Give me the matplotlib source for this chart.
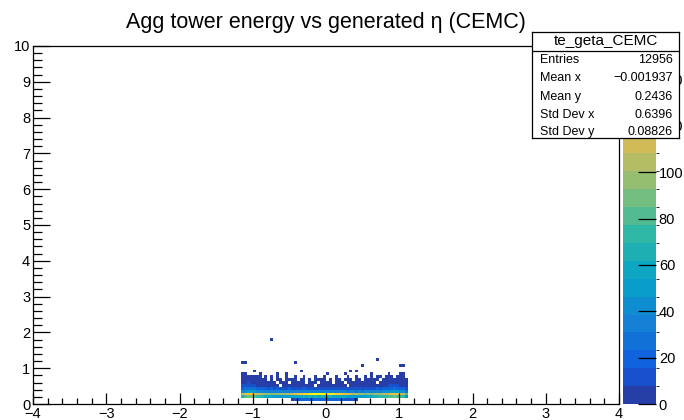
import numpy as np
import matplotlib
matplotlib.use("Agg")
import matplotlib.pyplot as plt
from matplotlib.colors import ListedColormap, BoundaryNorm, LinearSegmentedColormap
from matplotlib.ticker import MultipleLocator

plt.rcParams['font.family'] = ['Liberation Sans', 'DejaVu Sans']

# ---------------- data ----------------
title = "Agg tower energy vs generated \u03b7 (CEMC)"
hist_name = "te_geta_CEMC"
stat_labels = ["Entries", "Mean x", "Mean y", "Std Dev x", "Std Dev y"]
stat_values = ["12956", "\u22120.001937", "0.2436", "0.6396", "0.08826"]

x_range = (-4.0, 4.0)
y_range = (0.0, 10.0)
n_xbins = 200
n_ybins = 125
x_start = -1.16          # first filled x bin lower edge
row_y_low = [0.08, 0.16, 0.24, 0.32, 0.40, 0.48, 0.56, 0.64, 0.72]

row_008 = [0, 0, 0, 0, 0, 0, 0, 0, 0, 0,
           0, 0, 0, 0, 0, 0, 0, 7, 12, 14,
           17, 16, 19, 18, 21, 20, 22, 19, 21, 23,
           20, 18, 19, 17, 16, 15, 14, 12, 10, 6,
           0, 0, 0, 0, 0, 0, 0, 0, 0, 0,
           0, 0, 0, 0, 0, 0, 0]
row_016 = [62, 78, 85, 88, 82, 76, 70, 66, 60, 58,
           55, 52, 50, 48, 50, 47, 52, 55, 57, 60,
           58, 62, 60, 63, 61, 64, 60, 62, 65, 61,
           63, 59, 60, 57, 58, 55, 52, 50, 49, 51,
           48, 50, 53, 55, 58, 62, 66, 70, 73, 77,
           80, 84, 86, 82, 78, 70, 45]
row_024 = [105, 122, 128, 126, 120, 114, 108, 102, 98, 95,
           92, 96, 93, 97, 100, 104, 108, 113, 118, 124,
           129, 134, 139, 143, 147, 150, 153, 154, 151, 148,
           145, 141, 137, 132, 127, 122, 116, 111, 106, 101,
           97, 94, 92, 95, 91, 94, 97, 100, 104, 108,
           112, 116, 119, 117, 113, 106, 84]
row_032 = [40, 46, 50, 52, 48, 44, 41, 38, 36, 34,
           37, 33, 35, 31, 34, 32, 36, 33, 35, 34,
           37, 35, 38, 36, 34, 37, 35, 33, 36, 34,
           32, 35, 33, 31, 34, 32, 30, 33, 31, 29,
           32, 30, 33, 31, 34, 36, 35, 38, 40, 43,
           45, 48, 50, 47, 44, 40, 30]
row_040 = [22, 25, 27, 26, 24, 21, 19, 17, 18, 15,
           16, 14, 17, 13, 15, 14, 16, 12, 15, 13,
           14, 16, 12, 15, 13, 11, 14, 12, 13, 15,
           11, 13, 12, 14, 10, 12, 13, 11, 12, 10,
           13, 11, 12, 14, 13, 15, 16, 14, 17, 19,
           20, 22, 24, 21, 19, 17, 12]
row_048 = [9, 11, 12, 10, 8, 7, 6, 5, 3, 4,
           6, 3, 5, 0, 4, 3, 5, 2, 4, 1,
           3, 5, 2, 4, 3, 0, 2, 4, 3, 2,
           5, 1, 3, 2, 4, 3, 0, 2, 4, 3,
           5, 2, 4, 2, 3, 5, 4, 6, 7, 3,
           8, 9, 10, 8, 7, 6, 4]
row_056 = [6, 7, 8, 5, 6, 4, 3, 1, 2, 3,
           2, 1, 0, 3, 1, 2, 0, 1, 2, 1,
           1, 2, 0, 1, 3, 1, 0, 2, 1, 1,
           2, 0, 1, 2, 1, 0, 1, 2, 1, 1,
           1, 2, 1, 1, 2, 3, 0, 2, 4, 3,
           2, 5, 6, 4, 5, 3, 2]
row_064 = [4, 5, 3, 4, 2, 3, 1, 2, 1, 0,
           2, 0, 1, 1, 0, 1, 1, 1, 1, 0,
           1, 1, 0, 1, 0, 1, 1, 1, 1, 0,
           1, 0, 1, 1, 0, 1, 1, 1, 0, 1,
           1, 0, 1, 1, 1, 1, 2, 0, 1, 2,
           1, 3, 2, 3, 4, 2, 1]
row_072 = [2, 3, 1, 2, 1, 1, 1, 0, 1, 0,
           1, 0, 1, 0, 0, 1, 0, 0, 1, 0,
           0, 1, 0, 0, 0, 1, 0, 0, 1, 0,
           0, 0, 1, 0, 0, 0, 1, 0, 0, 1,
           0, 0, 1, 0, 1, 0, 1, 1, 0, 1,
           1, 1, 0, 1, 2, 1, 0]

scatter_x = [-1.14, -1.10, -0.90, -0.66, -0.54, 0.02, 0.26, 0.62, 0.86, 1.02, 1.06,
             -0.98, -0.34, 0.34, 0.42, 0.50, 1.02, 1.06, -1.14, -1.10, -0.42, 0.70, -0.74]
scatter_y = [0.84, 0.84, 0.84, 0.84, 0.84, 0.84, 0.84, 0.84, 0.84, 0.84, 0.84,
             0.92, 0.92, 0.92, 0.92, 1.08, 1.08, 1.08, 1.16, 1.16, 1.16, 1.24, 1.80]
scatter_n = [1] * len(scatter_x)

rows = [row_008, row_016, row_024, row_032, row_040, row_048, row_056, row_064, row_072]

# ---------------- build histogram ----------------
x_edges = np.linspace(x_range[0], x_range[1], n_xbins + 1)
y_edges = np.linspace(y_range[0], y_range[1], n_ybins + 1)
dx = x_edges[1] - x_edges[0]
dy = y_edges[1] - y_edges[0]

xs, ys, ws = [], [], []
for ylo, r in zip(row_y_low, rows):
    for j, c in enumerate(r):
        if c:
            xs.append(x_start + dx * (j + 0.5))
            ys.append(ylo + dy * 0.5)
            ws.append(c)
xs += scatter_x
ys += scatter_y
ws += scatter_n
H, _, _ = np.histogram2d(xs, ys, bins=[x_edges, y_edges], weights=ws)
Hm = np.ma.masked_equal(H.T, 0)

# ---------------- ROOT kBird palette ----------------
stops = [0.0, 0.125, 0.25, 0.375, 0.5, 0.625, 0.75, 0.875, 1.0]
red = [0.2082, 0.0592, 0.0780, 0.0232, 0.1802, 0.5301, 0.8186, 0.9956, 0.9764]
green = [0.1664, 0.3599, 0.5041, 0.6419, 0.7178, 0.7492, 0.7328, 0.7862, 0.9832]
blue = [0.5293, 0.8684, 0.8385, 0.7914, 0.6425, 0.4662, 0.3499, 0.1968, 0.0539]
bird = LinearSegmentedColormap.from_list(
    "bird", [(s, (r, g, b)) for s, r, g, b in zip(stops, red, green, blue)], N=255)
ndivz = 20
level_cols = [bird(int((i + 0.99) * 255 / ndivz) / 254.0) for i in range(ndivz)]
cmap = ListedColormap(level_cols)
zmax = H.max() * 1.003
norm = BoundaryNorm(np.linspace(0, zmax, ndivz + 1), ndivz)

# ---------------- figure ----------------
W, Hpx = 684, 420
fig = plt.figure(figsize=(W / 100, Hpx / 100), dpi=100)

def fx(px):
    return px / W

def fy(py):
    return 1 - py / Hpx

ax_l, ax_r, ax_t, ax_b = 33, 619, 46, 404
ax = fig.add_axes([fx(ax_l), fy(ax_b), fx(ax_r - ax_l), (ax_b - ax_t) / Hpx])
mesh = ax.pcolormesh(x_edges, y_edges, Hm, cmap=cmap, norm=norm)
ax.set_xlim(*x_range)
ax.set_ylim(*y_range)
ax.xaxis.set_major_locator(MultipleLocator(1))
ax.xaxis.set_minor_locator(MultipleLocator(0.2))
ax.yaxis.set_major_locator(MultipleLocator(1))
ax.yaxis.set_minor_locator(MultipleLocator(0.2))
ax.tick_params(axis='x', which='major', direction='in', length=8, width=0.9,
               labelsize=10.5, pad=2, top=False)
ax.tick_params(axis='x', which='minor', direction='in', length=4, width=0.9, top=False)
ax.tick_params(axis='y', which='major', direction='in', length=12.5, width=0.9,
               labelsize=10.5, pad=2, right=False)
ax.tick_params(axis='y', which='minor', direction='in', length=6.3, width=0.9, right=False)
for s in ax.spines.values():
    s.set_linewidth(0.9)

# colour bar
cax = fig.add_axes([fx(623), fy(ax_b), fx(656 - 623), (ax_b - ax_t) / Hpx])
cb = fig.colorbar(mesh, cax=cax)
cb.set_ticks(np.arange(0, zmax, 20))
cb.outline.set_visible(False)
cax.tick_params(direction='in', length=13, width=0.9, labelsize=10.5, pad=2,
                right=True, left=False)

# title
fig.text(fx(326), fy(28), title, ha='center', va='baseline', fontsize=15.5)

# stats box
bx_l, bx_r, bx_t, bx_b = 532, 679, 32, 138
sax = fig.add_axes([fx(bx_l), fy(bx_b), fx(bx_r - bx_l), (bx_b - bx_t) / Hpx])
sax.set_zorder(20)
sax.set_xticks([])
sax.set_yticks([])
sax.set_facecolor('white')
for s in sax.spines.values():
    s.set_linewidth(0.9)
bh = bx_b - bx_t
bw = bx_r - bx_l
sax.set_xlim(0, bw)
sax.set_ylim(bh, 0)
sax.text(bw / 2, 41 - bx_t, hist_name, ha='center', va='center', fontsize=11)
sax.plot([0, bw], [51 - bx_t, 51 - bx_t], color='black', lw=0.9)
row_py = [60, 78, 97, 115, 132]
for lab, val, py in zip(stat_labels, stat_values, row_py):
    sax.text(8, py - bx_t, lab, ha='left', va='center', fontsize=9)
    sax.text(bw - 6, py - bx_t, val, ha='right', va='center', fontsize=9)

fig.savefig("out.png", dpi=100)
